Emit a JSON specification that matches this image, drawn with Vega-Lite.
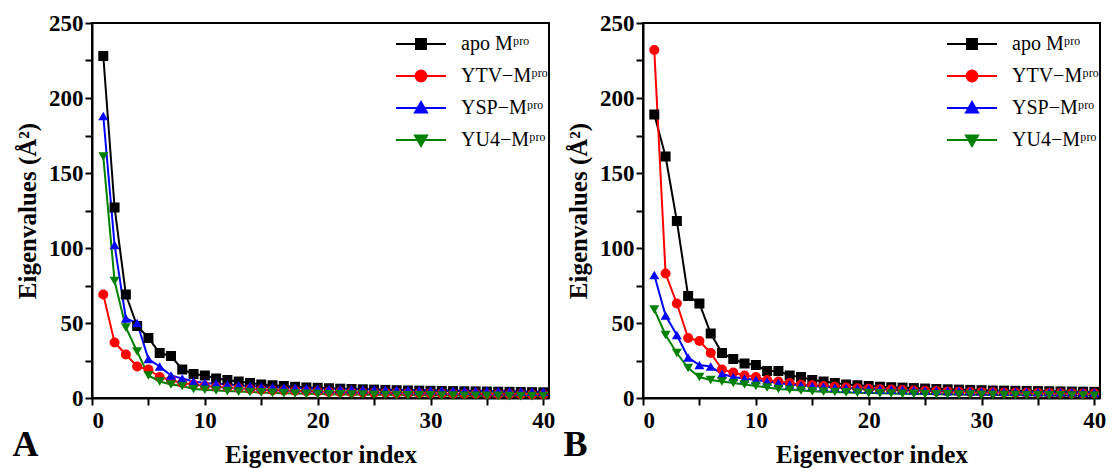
{
  "$schema": "https://vega.github.io/schema/vega-lite/v6.json",
  "padding": {"left": 11, "top": 11, "right": 5, "bottom": 5},
  "background": "white",
  "spacing": 6,
  "config": {
    "view": {"stroke": "black", "strokeWidth": 2},
    "font": "Liberation Serif",
    "axis": {
      "grid": false,
      "domainColor": "black", "domainWidth": 2,
      "tickColor": "black", "tickWidth": 2, "tickSize": 7,
      "labelFont": "Liberation Serif", "labelFontSize": 23, "labelFontWeight": "bold", "labelColor": "black",
      "titleFont": "Liberation Serif", "titleFontSize": 25, "titleFontWeight": "bold", "titleColor": "black"
    },
    "legend": {
      "orient": "none", "legendX": 315, "legendY": 7, "padding": 3,
      "symbolSize": 400, "symbolStrokeWidth": 2, "symbolOpacity": 1,
      "labelFont": "Liberation Serif", "labelFontSize": 20, "labelColor": "black", "labelOffset": 29,
      "rowPadding": 11
    },
    "title": {"font": "Liberation Serif", "fontSize": 36, "fontWeight": "bold", "color": "black"}
  },
  "datasets": {
    "d": [
      {"p":"A","s":"apo","i":1,"v":228},{"p":"A","s":"apo","i":2,"v":127},{"p":"A","s":"apo","i":3,"v":69},{"p":"A","s":"apo","i":4,"v":48},{"p":"A","s":"apo","i":5,"v":40},{"p":"A","s":"apo","i":6,"v":30},{"p":"A","s":"apo","i":7,"v":28},{"p":"A","s":"apo","i":8,"v":19},{"p":"A","s":"apo","i":9,"v":16},{"p":"A","s":"apo","i":10,"v":15},
      {"p":"A","s":"apo","i":11,"v":13},{"p":"A","s":"apo","i":12,"v":12},{"p":"A","s":"apo","i":13,"v":11},{"p":"A","s":"apo","i":14,"v":10},{"p":"A","s":"apo","i":15,"v":9},{"p":"A","s":"apo","i":16,"v":8.5},{"p":"A","s":"apo","i":17,"v":8},{"p":"A","s":"apo","i":18,"v":7.5},{"p":"A","s":"apo","i":19,"v":7},{"p":"A","s":"apo","i":20,"v":6.8},
      {"p":"A","s":"apo","i":21,"v":6.5},{"p":"A","s":"apo","i":22,"v":6.2},{"p":"A","s":"apo","i":23,"v":6},{"p":"A","s":"apo","i":24,"v":5.8},{"p":"A","s":"apo","i":25,"v":5.6},{"p":"A","s":"apo","i":26,"v":5.4},{"p":"A","s":"apo","i":27,"v":5.2},{"p":"A","s":"apo","i":28,"v":5},{"p":"A","s":"apo","i":29,"v":4.9},{"p":"A","s":"apo","i":30,"v":4.8},
      {"p":"A","s":"apo","i":31,"v":4.7},{"p":"A","s":"apo","i":32,"v":4.6},{"p":"A","s":"apo","i":33,"v":4.5},{"p":"A","s":"apo","i":34,"v":4.4},{"p":"A","s":"apo","i":35,"v":4.3},{"p":"A","s":"apo","i":36,"v":4.2},{"p":"A","s":"apo","i":37,"v":4.1},{"p":"A","s":"apo","i":38,"v":4},{"p":"A","s":"apo","i":39,"v":3.9},{"p":"A","s":"apo","i":40,"v":3.8},

      {"p":"A","s":"YTV","i":1,"v":69},{"p":"A","s":"YTV","i":2,"v":37},{"p":"A","s":"YTV","i":3,"v":29},{"p":"A","s":"YTV","i":4,"v":21},{"p":"A","s":"YTV","i":5,"v":19},{"p":"A","s":"YTV","i":6,"v":14},{"p":"A","s":"YTV","i":7,"v":12},{"p":"A","s":"YTV","i":8,"v":10},{"p":"A","s":"YTV","i":9,"v":9},{"p":"A","s":"YTV","i":10,"v":8},
      {"p":"A","s":"YTV","i":11,"v":7.5},{"p":"A","s":"YTV","i":12,"v":7},{"p":"A","s":"YTV","i":13,"v":6.5},{"p":"A","s":"YTV","i":14,"v":6},{"p":"A","s":"YTV","i":15,"v":5.5},{"p":"A","s":"YTV","i":16,"v":5.2},{"p":"A","s":"YTV","i":17,"v":5},{"p":"A","s":"YTV","i":18,"v":4.8},{"p":"A","s":"YTV","i":19,"v":4.5},{"p":"A","s":"YTV","i":20,"v":4.3},
      {"p":"A","s":"YTV","i":21,"v":4.1},{"p":"A","s":"YTV","i":22,"v":4},{"p":"A","s":"YTV","i":23,"v":3.8},{"p":"A","s":"YTV","i":24,"v":3.7},{"p":"A","s":"YTV","i":25,"v":3.6},{"p":"A","s":"YTV","i":26,"v":3.5},{"p":"A","s":"YTV","i":27,"v":3.4},{"p":"A","s":"YTV","i":28,"v":3.3},{"p":"A","s":"YTV","i":29,"v":3.2},{"p":"A","s":"YTV","i":30,"v":3.1},
      {"p":"A","s":"YTV","i":31,"v":3},{"p":"A","s":"YTV","i":32,"v":2.9},{"p":"A","s":"YTV","i":33,"v":2.8},{"p":"A","s":"YTV","i":34,"v":2.8},{"p":"A","s":"YTV","i":35,"v":2.7},{"p":"A","s":"YTV","i":36,"v":2.6},{"p":"A","s":"YTV","i":37,"v":2.5},{"p":"A","s":"YTV","i":38,"v":2.5},{"p":"A","s":"YTV","i":39,"v":2.4},{"p":"A","s":"YTV","i":40,"v":2.3},

      {"p":"A","s":"YSP","i":1,"v":188},{"p":"A","s":"YSP","i":2,"v":102},{"p":"A","s":"YSP","i":3,"v":53},{"p":"A","s":"YSP","i":4,"v":50},{"p":"A","s":"YSP","i":5,"v":26},{"p":"A","s":"YSP","i":6,"v":21},{"p":"A","s":"YSP","i":7,"v":15},{"p":"A","s":"YSP","i":8,"v":13},{"p":"A","s":"YSP","i":9,"v":11},{"p":"A","s":"YSP","i":10,"v":10},
      {"p":"A","s":"YSP","i":11,"v":9.5},{"p":"A","s":"YSP","i":12,"v":9},{"p":"A","s":"YSP","i":13,"v":8.5},{"p":"A","s":"YSP","i":14,"v":8},{"p":"A","s":"YSP","i":15,"v":7.5},{"p":"A","s":"YSP","i":16,"v":7.2},{"p":"A","s":"YSP","i":17,"v":7},{"p":"A","s":"YSP","i":18,"v":6.8},{"p":"A","s":"YSP","i":19,"v":6.5},{"p":"A","s":"YSP","i":20,"v":6.3},
      {"p":"A","s":"YSP","i":21,"v":6.1},{"p":"A","s":"YSP","i":22,"v":6},{"p":"A","s":"YSP","i":23,"v":5.9},{"p":"A","s":"YSP","i":24,"v":5.8},{"p":"A","s":"YSP","i":25,"v":5.7},{"p":"A","s":"YSP","i":26,"v":5.6},{"p":"A","s":"YSP","i":27,"v":5.5},{"p":"A","s":"YSP","i":28,"v":5.4},{"p":"A","s":"YSP","i":29,"v":5.3},{"p":"A","s":"YSP","i":30,"v":5.2},
      {"p":"A","s":"YSP","i":31,"v":5.1},{"p":"A","s":"YSP","i":32,"v":5},{"p":"A","s":"YSP","i":33,"v":4.9},{"p":"A","s":"YSP","i":34,"v":4.8},{"p":"A","s":"YSP","i":35,"v":4.7},{"p":"A","s":"YSP","i":36,"v":4.6},{"p":"A","s":"YSP","i":37,"v":4.5},{"p":"A","s":"YSP","i":38,"v":4.4},{"p":"A","s":"YSP","i":39,"v":4.3},{"p":"A","s":"YSP","i":40,"v":4.2},

      {"p":"A","s":"YU4","i":1,"v":161},{"p":"A","s":"YU4","i":2,"v":78},{"p":"A","s":"YU4","i":3,"v":47},{"p":"A","s":"YU4","i":4,"v":31},{"p":"A","s":"YU4","i":5,"v":15},{"p":"A","s":"YU4","i":6,"v":11},{"p":"A","s":"YU4","i":7,"v":9},{"p":"A","s":"YU4","i":8,"v":8},{"p":"A","s":"YU4","i":9,"v":6},{"p":"A","s":"YU4","i":10,"v":5.5},
      {"p":"A","s":"YU4","i":11,"v":5},{"p":"A","s":"YU4","i":12,"v":4.6},{"p":"A","s":"YU4","i":13,"v":4.3},{"p":"A","s":"YU4","i":14,"v":4},{"p":"A","s":"YU4","i":15,"v":3.7},{"p":"A","s":"YU4","i":16,"v":3.4},{"p":"A","s":"YU4","i":17,"v":3.2},{"p":"A","s":"YU4","i":18,"v":3},{"p":"A","s":"YU4","i":19,"v":2.8},{"p":"A","s":"YU4","i":20,"v":2.6},
      {"p":"A","s":"YU4","i":21,"v":2.5},{"p":"A","s":"YU4","i":22,"v":2.4},{"p":"A","s":"YU4","i":23,"v":2.3},{"p":"A","s":"YU4","i":24,"v":2.2},{"p":"A","s":"YU4","i":25,"v":2.1},{"p":"A","s":"YU4","i":26,"v":2},{"p":"A","s":"YU4","i":27,"v":1.9},{"p":"A","s":"YU4","i":28,"v":1.8},{"p":"A","s":"YU4","i":29,"v":1.8},{"p":"A","s":"YU4","i":30,"v":1.7},
      {"p":"A","s":"YU4","i":31,"v":1.6},{"p":"A","s":"YU4","i":32,"v":1.6},{"p":"A","s":"YU4","i":33,"v":1.5},{"p":"A","s":"YU4","i":34,"v":1.5},{"p":"A","s":"YU4","i":35,"v":1.4},{"p":"A","s":"YU4","i":36,"v":1.4},{"p":"A","s":"YU4","i":37,"v":1.3},{"p":"A","s":"YU4","i":38,"v":1.3},{"p":"A","s":"YU4","i":39,"v":1.2},{"p":"A","s":"YU4","i":40,"v":1.2},

      {"p":"B","s":"apo","i":1,"v":189},{"p":"B","s":"apo","i":2,"v":161},{"p":"B","s":"apo","i":3,"v":118},{"p":"B","s":"apo","i":4,"v":68},{"p":"B","s":"apo","i":5,"v":63},{"p":"B","s":"apo","i":6,"v":43},{"p":"B","s":"apo","i":7,"v":30},{"p":"B","s":"apo","i":8,"v":26},{"p":"B","s":"apo","i":9,"v":23},{"p":"B","s":"apo","i":10,"v":22},
      {"p":"B","s":"apo","i":11,"v":18},{"p":"B","s":"apo","i":12,"v":18},{"p":"B","s":"apo","i":13,"v":15},{"p":"B","s":"apo","i":14,"v":14},{"p":"B","s":"apo","i":15,"v":12},{"p":"B","s":"apo","i":16,"v":11},{"p":"B","s":"apo","i":17,"v":10},{"p":"B","s":"apo","i":18,"v":9},{"p":"B","s":"apo","i":19,"v":8.5},{"p":"B","s":"apo","i":20,"v":8},
      {"p":"B","s":"apo","i":21,"v":7.5},{"p":"B","s":"apo","i":22,"v":7.2},{"p":"B","s":"apo","i":23,"v":6.9},{"p":"B","s":"apo","i":24,"v":6.6},{"p":"B","s":"apo","i":25,"v":6.3},{"p":"B","s":"apo","i":26,"v":6},{"p":"B","s":"apo","i":27,"v":5.8},{"p":"B","s":"apo","i":28,"v":5.6},{"p":"B","s":"apo","i":29,"v":5.4},{"p":"B","s":"apo","i":30,"v":5.2},
      {"p":"B","s":"apo","i":31,"v":5},{"p":"B","s":"apo","i":32,"v":4.9},{"p":"B","s":"apo","i":33,"v":4.8},{"p":"B","s":"apo","i":34,"v":4.7},{"p":"B","s":"apo","i":35,"v":4.6},{"p":"B","s":"apo","i":36,"v":4.5},{"p":"B","s":"apo","i":37,"v":4.4},{"p":"B","s":"apo","i":38,"v":4.3},{"p":"B","s":"apo","i":39,"v":4.2},{"p":"B","s":"apo","i":40,"v":4.1},

      {"p":"B","s":"YTV","i":1,"v":232},{"p":"B","s":"YTV","i":2,"v":83},{"p":"B","s":"YTV","i":3,"v":63},{"p":"B","s":"YTV","i":4,"v":40},{"p":"B","s":"YTV","i":5,"v":38},{"p":"B","s":"YTV","i":6,"v":30},{"p":"B","s":"YTV","i":7,"v":19},{"p":"B","s":"YTV","i":8,"v":17},{"p":"B","s":"YTV","i":9,"v":15},{"p":"B","s":"YTV","i":10,"v":14},
      {"p":"B","s":"YTV","i":11,"v":12},{"p":"B","s":"YTV","i":12,"v":11},{"p":"B","s":"YTV","i":13,"v":10},{"p":"B","s":"YTV","i":14,"v":9},{"p":"B","s":"YTV","i":15,"v":8.5},{"p":"B","s":"YTV","i":16,"v":8},{"p":"B","s":"YTV","i":17,"v":7.5},{"p":"B","s":"YTV","i":18,"v":7},{"p":"B","s":"YTV","i":19,"v":6.5},{"p":"B","s":"YTV","i":20,"v":6.2},
      {"p":"B","s":"YTV","i":21,"v":5.9},{"p":"B","s":"YTV","i":22,"v":5.6},{"p":"B","s":"YTV","i":23,"v":5.3},{"p":"B","s":"YTV","i":24,"v":5},{"p":"B","s":"YTV","i":25,"v":4.8},{"p":"B","s":"YTV","i":26,"v":4.6},{"p":"B","s":"YTV","i":27,"v":4.4},{"p":"B","s":"YTV","i":28,"v":4.2},{"p":"B","s":"YTV","i":29,"v":4},{"p":"B","s":"YTV","i":30,"v":3.9},
      {"p":"B","s":"YTV","i":31,"v":3.8},{"p":"B","s":"YTV","i":32,"v":3.7},{"p":"B","s":"YTV","i":33,"v":3.6},{"p":"B","s":"YTV","i":34,"v":3.5},{"p":"B","s":"YTV","i":35,"v":3.4},{"p":"B","s":"YTV","i":36,"v":3.3},{"p":"B","s":"YTV","i":37,"v":3.2},{"p":"B","s":"YTV","i":38,"v":3.1},{"p":"B","s":"YTV","i":39,"v":3},{"p":"B","s":"YTV","i":40,"v":3},

      {"p":"B","s":"YSP","i":1,"v":82},{"p":"B","s":"YSP","i":2,"v":55},{"p":"B","s":"YSP","i":3,"v":42},{"p":"B","s":"YSP","i":4,"v":27},{"p":"B","s":"YSP","i":5,"v":22},{"p":"B","s":"YSP","i":6,"v":21},{"p":"B","s":"YSP","i":7,"v":16},{"p":"B","s":"YSP","i":8,"v":14},{"p":"B","s":"YSP","i":9,"v":13},{"p":"B","s":"YSP","i":10,"v":12},
      {"p":"B","s":"YSP","i":11,"v":11},{"p":"B","s":"YSP","i":12,"v":10},{"p":"B","s":"YSP","i":13,"v":9},{"p":"B","s":"YSP","i":14,"v":8.5},{"p":"B","s":"YSP","i":15,"v":8},{"p":"B","s":"YSP","i":16,"v":7.5},{"p":"B","s":"YSP","i":17,"v":7},{"p":"B","s":"YSP","i":18,"v":6.6},{"p":"B","s":"YSP","i":19,"v":6.3},{"p":"B","s":"YSP","i":20,"v":6},
      {"p":"B","s":"YSP","i":21,"v":5.8},{"p":"B","s":"YSP","i":22,"v":5.6},{"p":"B","s":"YSP","i":23,"v":5.4},{"p":"B","s":"YSP","i":24,"v":5.2},{"p":"B","s":"YSP","i":25,"v":5},{"p":"B","s":"YSP","i":26,"v":4.9},{"p":"B","s":"YSP","i":27,"v":4.8},{"p":"B","s":"YSP","i":28,"v":4.7},{"p":"B","s":"YSP","i":29,"v":4.6},{"p":"B","s":"YSP","i":30,"v":4.5},
      {"p":"B","s":"YSP","i":31,"v":4.4},{"p":"B","s":"YSP","i":32,"v":4.3},{"p":"B","s":"YSP","i":33,"v":4.2},{"p":"B","s":"YSP","i":34,"v":4.1},{"p":"B","s":"YSP","i":35,"v":4},{"p":"B","s":"YSP","i":36,"v":4},{"p":"B","s":"YSP","i":37,"v":3.9},{"p":"B","s":"YSP","i":38,"v":3.9},{"p":"B","s":"YSP","i":39,"v":3.8},{"p":"B","s":"YSP","i":40,"v":3.8},

      {"p":"B","s":"YU4","i":1,"v":59},{"p":"B","s":"YU4","i":2,"v":42},{"p":"B","s":"YU4","i":3,"v":30},{"p":"B","s":"YU4","i":4,"v":20},{"p":"B","s":"YU4","i":5,"v":14},{"p":"B","s":"YU4","i":6,"v":12},{"p":"B","s":"YU4","i":7,"v":11},{"p":"B","s":"YU4","i":8,"v":10},{"p":"B","s":"YU4","i":9,"v":9},{"p":"B","s":"YU4","i":10,"v":8},
      {"p":"B","s":"YU4","i":11,"v":7},{"p":"B","s":"YU4","i":12,"v":6},{"p":"B","s":"YU4","i":13,"v":5.5},{"p":"B","s":"YU4","i":14,"v":5},{"p":"B","s":"YU4","i":15,"v":4.5},{"p":"B","s":"YU4","i":16,"v":4.2},{"p":"B","s":"YU4","i":17,"v":4},{"p":"B","s":"YU4","i":18,"v":3.7},{"p":"B","s":"YU4","i":19,"v":3.5},{"p":"B","s":"YU4","i":20,"v":3.3},
      {"p":"B","s":"YU4","i":21,"v":3.1},{"p":"B","s":"YU4","i":22,"v":3},{"p":"B","s":"YU4","i":23,"v":2.8},{"p":"B","s":"YU4","i":24,"v":2.7},{"p":"B","s":"YU4","i":25,"v":2.6},{"p":"B","s":"YU4","i":26,"v":2.5},{"p":"B","s":"YU4","i":27,"v":2.4},{"p":"B","s":"YU4","i":28,"v":2.3},{"p":"B","s":"YU4","i":29,"v":2.2},{"p":"B","s":"YU4","i":30,"v":2.1},
      {"p":"B","s":"YU4","i":31,"v":2},{"p":"B","s":"YU4","i":32,"v":1.9},{"p":"B","s":"YU4","i":33,"v":1.9},{"p":"B","s":"YU4","i":34,"v":1.8},{"p":"B","s":"YU4","i":35,"v":1.8},{"p":"B","s":"YU4","i":36,"v":1.7},{"p":"B","s":"YU4","i":37,"v":1.7},{"p":"B","s":"YU4","i":38,"v":1.6},{"p":"B","s":"YU4","i":39,"v":1.6},{"p":"B","s":"YU4","i":40,"v":1.5}
    ]
  },
  "data": {"name": "d"},
  "resolve": {"scale": {"color": "independent", "shape": "independent", "fill": "independent", "stroke": "independent"}},
  "hconcat": [
    {
      "width": 457, "height": 375,
      "title": {"text": "A", "orient": "bottom", "anchor": "start", "frame": "bounds", "dy": -43, "dx": -3},
      "transform": [{"filter": "datum.p === 'A'"}],
      "encoding": {
        "x": {"field": "i", "type": "quantitative", "scale": {"domain": [0, 40.5], "nice": false},
              "axis": {"title": "Eigenvector index", "values": [0,5,10,15,20,25,30,35,40], "labelExpr": "datum.value % 10 === 0 ? datum.label : ''", "labelPadding": 4, "titlePadding": 10,
                       "encode": {"ticks": {"y2": {"value": {"expr": "datum.value % 10 === 0 ? 7 : 4"}}}}}},
        "y": {"field": "v", "type": "quantitative", "scale": {"domain": [0, 250], "nice": false},
              "axis": {"title": "Eigenvalues (Å²)", "values": [0,25,50,75,100,125,150,175,200,225,250], "labelExpr": "datum.value % 50 === 0 ? datum.label : ''", "titlePadding": 8,
                       "encode": {"ticks": {"x2": {"value": {"expr": "datum.value % 50 === 0 ? -7 : -4"}}}}}}
      },
      "resolve": {"scale": {"shape": "independent", "fill": "independent", "stroke": "independent"}},
      "layer": [
        {"mark": {"type": "line", "strokeWidth": 2},
         "encoding": {"color": {"field": "s", "type": "nominal", "scale": {"domain": ["apo","YTV","YSP","YU4"], "range": ["#000000","#ff0000","#0000ff","#008000"]}, "legend": null}}},
        {"mark": {"type": "point", "filled": true, "opacity": 1, "size": 100},
         "encoding": {
           "color": {"field": "s", "type": "nominal", "scale": {"domain": ["apo","YTV","YSP","YU4"], "range": ["#000000","#ff0000","#0000ff","#008000"]}, "legend": null},
           "shape": {"field": "s", "type": "nominal", "scale": {"domain": ["apo","YTV","YSP","YU4"], "range": ["square","circle","triangle-up","triangle-down"]}, "legend": null}}},
        {"transform": [{"filter": "datum.i < 0"}],
         "mark": {"type": "point", "filled": true, "opacity": 1},
         "encoding": {
           "fill": {"field": "s", "type": "nominal", "scale": {"domain": ["apo","YTV","YSP","YU4"], "range": ["#000000","#ff0000","#0000ff","#008000"]},
                    "legend": {"title": null, "labelExpr": "datum.value === 'apo' ? 'apo Mᵖʳᵒ' : datum.value + '−Mᵖʳᵒ'"}},
           "stroke": {"field": "s", "type": "nominal", "scale": {"domain": ["apo","YTV","YSP","YU4"], "range": ["#000000","#ff0000","#0000ff","#008000"]},
                    "legend": {"title": null, "labelExpr": "datum.value === 'apo' ? 'apo Mᵖʳᵒ' : datum.value + '−Mᵖʳᵒ'"}},
           "shape": {"field": "s", "type": "nominal", "scale": {"domain": ["apo","YTV","YSP","YU4"], "range": ["M-2.5,0H2.5M-0.5,-0.5H0.5V0.5H-0.5Z", "M-2.5,0H2.5M0.55,0A0.55,0.55,0,1,1,-0.55,0A0.55,0.55,0,1,1,0.55,0Z", "M-2.5,0H2.5M0,-0.6L0.6,0.45H-0.6Z", "M-2.5,0H2.5M0,0.6L0.6,-0.45H-0.6Z"]},
                    "legend": {"title": null, "labelExpr": "datum.value === 'apo' ? 'apo Mᵖʳᵒ' : datum.value + '−Mᵖʳᵒ'"}}}}
      ]
    },
    {
      "width": 457, "height": 375,
      "title": {"text": "B", "orient": "bottom", "anchor": "start", "frame": "bounds", "dy": -43, "dx": -3},
      "transform": [{"filter": "datum.p === 'B'"}],
      "encoding": {
        "x": {"field": "i", "type": "quantitative", "scale": {"domain": [0, 40.5], "nice": false},
              "axis": {"title": "Eigenvector index", "values": [0,5,10,15,20,25,30,35,40], "labelExpr": "datum.value % 10 === 0 ? datum.label : ''", "labelPadding": 4, "titlePadding": 10,
                       "encode": {"ticks": {"y2": {"value": {"expr": "datum.value % 10 === 0 ? 7 : 4"}}}}}},
        "y": {"field": "v", "type": "quantitative", "scale": {"domain": [0, 250], "nice": false},
              "axis": {"title": "Eigenvalues (Å²)", "values": [0,25,50,75,100,125,150,175,200,225,250], "labelExpr": "datum.value % 50 === 0 ? datum.label : ''", "titlePadding": 8,
                       "encode": {"ticks": {"x2": {"value": {"expr": "datum.value % 50 === 0 ? -7 : -4"}}}}}}
      },
      "resolve": {"scale": {"shape": "independent", "fill": "independent", "stroke": "independent"}},
      "layer": [
        {"mark": {"type": "line", "strokeWidth": 2},
         "encoding": {"color": {"field": "s", "type": "nominal", "scale": {"domain": ["apo","YTV","YSP","YU4"], "range": ["#000000","#ff0000","#0000ff","#008000"]}, "legend": null}}},
        {"mark": {"type": "point", "filled": true, "opacity": 1, "size": 100},
         "encoding": {
           "color": {"field": "s", "type": "nominal", "scale": {"domain": ["apo","YTV","YSP","YU4"], "range": ["#000000","#ff0000","#0000ff","#008000"]}, "legend": null},
           "shape": {"field": "s", "type": "nominal", "scale": {"domain": ["apo","YTV","YSP","YU4"], "range": ["square","circle","triangle-up","triangle-down"]}, "legend": null}}},
        {"transform": [{"filter": "datum.i < 0"}],
         "mark": {"type": "point", "filled": true, "opacity": 1},
         "encoding": {
           "fill": {"field": "s", "type": "nominal", "scale": {"domain": ["apo","YTV","YSP","YU4"], "range": ["#000000","#ff0000","#0000ff","#008000"]},
                    "legend": {"title": null, "labelExpr": "datum.value === 'apo' ? 'apo Mᵖʳᵒ' : datum.value + '−Mᵖʳᵒ'"}},
           "stroke": {"field": "s", "type": "nominal", "scale": {"domain": ["apo","YTV","YSP","YU4"], "range": ["#000000","#ff0000","#0000ff","#008000"]},
                    "legend": {"title": null, "labelExpr": "datum.value === 'apo' ? 'apo Mᵖʳᵒ' : datum.value + '−Mᵖʳᵒ'"}},
           "shape": {"field": "s", "type": "nominal", "scale": {"domain": ["apo","YTV","YSP","YU4"], "range": ["M-2.5,0H2.5M-0.5,-0.5H0.5V0.5H-0.5Z", "M-2.5,0H2.5M0.55,0A0.55,0.55,0,1,1,-0.55,0A0.55,0.55,0,1,1,0.55,0Z", "M-2.5,0H2.5M0,-0.6L0.6,0.45H-0.6Z", "M-2.5,0H2.5M0,0.6L0.6,-0.45H-0.6Z"]},
                    "legend": {"title": null, "labelExpr": "datum.value === 'apo' ? 'apo Mᵖʳᵒ' : datum.value + '−Mᵖʳᵒ'"}}}}
      ]
    }
  ]
}
